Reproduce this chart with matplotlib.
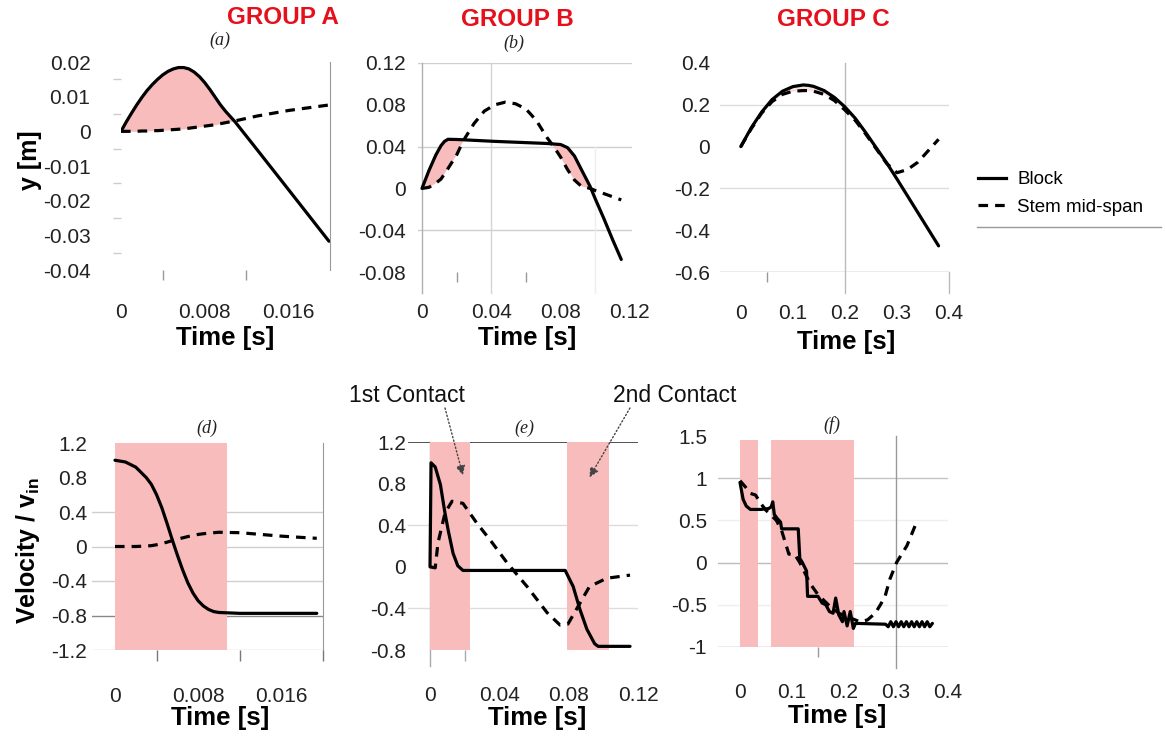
import numpy as np
import matplotlib
matplotlib.use("Agg")
import matplotlib.pyplot as plt
from matplotlib.lines import Line2D

plt.rcParams["font.family"] = ["Liberation Sans", "DejaVu Sans"]
plt.rcParams["mathtext.fontset"] = "custom"
plt.rcParams["mathtext.rm"] = "Liberation Sans"
plt.rcParams["mathtext.bf"] = "Liberation Sans:bold"

W, H, DPI = 1166, 740, 100
PINK = "#f8bcbc"
RED = "#e5101c"
TICK_C = "#222222"
DASH = (0, (3, 2.2))
LW = 2.3

# ---------------------------------------------------------------------------
# data
# ---------------------------------------------------------------------------
# (a) group A displacement
t_a = [0, 0.0005, 0.001, 0.0015, 0.002, 0.0025, 0.003, 0.0035, 0.004, 0.0045,
       0.005, 0.0055, 0.006, 0.0065, 0.007, 0.0075, 0.008, 0.0085, 0.009,
       0.0095, 0.01, 0.0109, 0.013, 0.016, 0.0199]
block_a = [0, 0.0027, 0.0052, 0.0076, 0.0098, 0.0118, 0.0135, 0.015, 0.0163,
           0.0173, 0.018, 0.0184, 0.0184, 0.018, 0.0171, 0.0158, 0.0141,
           0.0121, 0.0099, 0.0077, 0.0058, 0.0028, -0.0052, -0.0167, -0.0317]
stem_a = [0, 0, 0, 0, 0.0001, 0.0001, 0.0002, 0.0002, 0.0003, 0.0004, 0.0005,
          0.0006, 0.0007, 0.0009, 0.0011, 0.0013, 0.0015, 0.0017, 0.0019,
          0.0022, 0.0025, 0.003, 0.0044, 0.006, 0.0076]

# (b) group B displacement
t_b = [0, 0.004, 0.008, 0.011, 0.013, 0.015, 0.02, 0.024, 0.03, 0.036, 0.042,
       0.048, 0.054, 0.06, 0.066, 0.072, 0.076, 0.08, 0.084, 0.088, 0.092,
       0.097, 0.1, 0.105, 0.11, 0.115]
block_b = [0, 0.017, 0.032, 0.041, 0.045, 0.047, 0.0468, 0.0465, 0.046,
           0.0455, 0.045, 0.0446, 0.0442, 0.0438, 0.0434, 0.043, 0.0425, 0.042,
           0.039, 0.031, 0.018, 0.002, -0.01, -0.029, -0.049, -0.068]
stem_b = [0, 0.001, 0.005, 0.009, 0.014, 0.019, 0.032, 0.046, 0.062, 0.074,
          0.08, 0.0825, 0.081, 0.076, 0.065, 0.049, 0.04, 0.03, 0.018, 0.008,
          0.002, 0.0, -0.002, -0.005, -0.008, -0.011]

# (c) group C displacement
t_c = [0, 0.02, 0.04, 0.06, 0.08, 0.1, 0.12, 0.13, 0.14, 0.16, 0.18, 0.2,
       0.22, 0.24, 0.26, 0.28, 0.3, 0.32, 0.34, 0.36, 0.38]
block_c = [0, 0.09, 0.165, 0.225, 0.265, 0.287, 0.295, 0.293, 0.288, 0.268,
           0.235, 0.19, 0.135, 0.067, -0.005, -0.077, -0.155, -0.235, -0.315,
           -0.395, -0.475]
stem_c = [0, 0.085, 0.16, 0.215, 0.25, 0.265, 0.268, 0.268, 0.265, 0.25,
          0.22, 0.175, 0.125, 0.06, -0.01, -0.08, -0.125, -0.11, -0.075,
          -0.02, 0.035]

# (d) group A velocity
t_d = [0, 0.001, 0.002, 0.003, 0.0035, 0.004, 0.0045, 0.005, 0.0055, 0.006,
       0.0065, 0.007, 0.0075, 0.008, 0.0085, 0.009, 0.0095, 0.01, 0.012,
       0.014, 0.016, 0.018, 0.0194]
block_d = [1.0, 0.98, 0.92, 0.8, 0.72, 0.6, 0.45, 0.27, 0.08, -0.1, -0.27,
           -0.42, -0.54, -0.63, -0.69, -0.73, -0.755, -0.765, -0.775, -0.775,
           -0.775, -0.775, -0.775]
stem_d = [0, 0, 0, 0.005, 0.01, 0.02, 0.034, 0.05, 0.068, 0.085, 0.1, 0.115,
          0.128, 0.14, 0.148, 0.155, 0.16, 0.165, 0.16, 0.14, 0.12, 0.105,
          0.095]
contact_d = [(0, 0.0108)]

# (e) group B velocity
t_block_e = [0, 0.0006, 0.003, 0.006, 0.0085, 0.0105, 0.0133, 0.016, 0.019,
             0.078, 0.0826, 0.0865, 0.0905, 0.095, 0.097, 0.1154]
block_e = [0, 1.0, 0.96, 0.79, 0.53, 0.35, 0.13, 0.01, -0.035, -0.035, -0.19,
           -0.41, -0.6, -0.74, -0.765, -0.765]
t_stem_e = [0, 0.003, 0.0046, 0.0087, 0.0127, 0.019, 0.027, 0.0346, 0.0444,
            0.056, 0.0675, 0.075, 0.0796, 0.0865, 0.092, 0.102, 0.1154]
stem_e = [0, -0.01, 0.23, 0.52, 0.63, 0.61, 0.42, 0.26, 0.04, -0.19, -0.44,
          -0.56, -0.55, -0.35, -0.19, -0.11, -0.08]
contact_e = [(0, 0.023), (0.079, 0.103)]

# (f) group C velocity
t_block_f = [0, 0.006, 0.012, 0.02, 0.04, 0.055, 0.06, 0.063, 0.066, 0.072,
             0.078, 0.08, 0.112, 0.115, 0.12, 0.128, 0.13, 0.15, 0.158, 0.165,
             0.172, 0.179, 0.184, 0.19, 0.197, 0.2, 0.206, 0.212, 0.218,
             0.222, 0.28, 0.285, 0.29, 0.295, 0.3, 0.305, 0.31, 0.315, 0.32,
             0.325, 0.33, 0.335, 0.34, 0.345, 0.35, 0.355, 0.36, 0.365, 0.37]
block_f = [0.95, 0.75, 0.67, 0.63, 0.63, 0.64, 0.66, 0.72, 0.57, 0.52, 0.48,
           0.4, 0.4, 0.05, 0.0, -0.1, -0.4, -0.4, -0.48, -0.5, -0.58, -0.6,
           -0.42, -0.62, -0.7, -0.58, -0.75, -0.58, -0.78, -0.72, -0.73,
           -0.76, -0.7, -0.76, -0.7, -0.76, -0.7, -0.76, -0.7, -0.76, -0.7,
           -0.76, -0.7, -0.76, -0.7, -0.76, -0.7, -0.76, -0.72]
t_stem_f = [0, 0.01, 0.02, 0.03, 0.04, 0.05, 0.06, 0.07, 0.08, 0.094, 0.105,
            0.115, 0.135, 0.15, 0.17, 0.19, 0.21, 0.23, 0.245, 0.26, 0.27,
            0.279, 0.288, 0.301, 0.321, 0.341]
stem_f = [0.97, 0.9, 0.82, 0.8, 0.7, 0.62, 0.56, 0.5, 0.38, 0.1, 0.1, 0.0,
          -0.25, -0.38, -0.5, -0.6, -0.65, -0.7, -0.68, -0.6, -0.5, -0.4,
          -0.2, 0.0, 0.2, 0.5]
contact_f = [(0, 0.035), (0.06, 0.22)]

# axis ticks
yt_a = [0.02, 0.01, 0, -0.01, -0.02, -0.03, -0.04]
yt_b = [0.12, 0.08, 0.04, 0, -0.04, -0.08]
yt_c = [0.4, 0.2, 0, -0.2, -0.4, -0.6]
yt_d = [1.2, 0.8, 0.4, 0, -0.4, -0.8, -1.2]
yt_e = [1.2, 0.8, 0.4, 0, -0.4, -0.8]
yt_f = [1.5, 1, 0.5, 0, -0.5, -1]
xt_ad = [0, 0.008, 0.016]
xt_be = [0, 0.04, 0.08, 0.12]
xt_cf = [0, 0.1, 0.2, 0.3, 0.4]

fig = plt.figure(figsize=(W / DPI, H / DPI), dpi=DPI)


def px_axes(l, t, r, b):
    return fig.add_axes([l / W, 1 - b / H, (r - l) / W, (b - t) / H])


def ftxt(x, y, s, **kw):
    kw.setdefault("ha", "center")
    kw.setdefault("va", "center")
    fig.text(x / W, 1 - y / H, s, **kw)


def base(ax, xlim, ylim, xt, yt, xpad, ypad):
    ax.set_xlim(xlim)
    ax.set_ylim(ylim)
    for s in ax.spines.values():
        s.set_visible(False)
    ax.set_xticks(xt, [f"{v:g}" for v in xt])
    ax.set_yticks(yt, [f"{v:g}" for v in yt])
    ax.tick_params(which="major", length=0, labelsize=15, colors=TICK_C)
    ax.tick_params(axis="x", which="major", pad=xpad)
    ax.tick_params(axis="y", which="major", pad=ypad)
    ax.tick_params(which="minor", direction="out", length=7, width=1,
                   color="#999999")
    ax.patch.set_alpha(0)


def hgrid(ax, vals, color="#d4d4d4", lw=1):
    for v in vals:
        ax.axhline(v, color=color, lw=lw, zorder=0.5)


def vline(ax, x, y0, y1, color="#bbbbbb", lw=1):
    ax.plot([x, x], [y0, y1], color=color, lw=lw, zorder=0.5, clip_on=False)


def curves(ax, tb, yb, ts, ys):
    ax.plot(tb, yb, color="black", lw=LW, solid_capstyle="round", zorder=3)
    ax.plot(ts, ys, color="black", lw=LW, ls=DASH, zorder=3)


# ---------------------------------------------------------------- (a)
ax = px_axes(121, 62, 330, 270)
base(ax, (0, 0.02), (-0.04, 0.02), xt_ad, yt_a, 24, 22)
ax.set_xticks([0.004, 0.012], minor=True)
ax.set_yticks([0.015, 0.005, -0.005, -0.015, -0.025, -0.035], minor=True)
ax.tick_params(axis="y", which="minor", color="#cccccc", length=6)
ax.spines["right"].set_visible(True)
ax.spines["right"].set_color("#999999")
ax.fill_between(t_a, block_a, stem_a, where=np.array(block_a) >= np.array(stem_a),
                interpolate=True, color=PINK, lw=0, zorder=1)
curves(ax, t_a, block_a, t_a, stem_a)

# ---------------------------------------------------------------- (b)
ax = px_axes(418, 63, 632, 272)
base(ax, (-0.0023, 0.1212), (-0.08, 0.12), xt_be, yt_b, 22, 9)
ax.set_xticks([0.02, 0.06], minor=True)
hgrid(ax, [0.12, 0.04, -0.04], color="#cfcfcf")
vline(ax, 0, -0.1, 0.12, color="#b0b0b0")
vline(ax, 0.04, -0.1, 0.12, color="#d4d4d4")
vline(ax, 0.1, -0.1, 0.04, color="#eeeeee")
ax.fill_between(t_b, block_b, stem_b, where=np.array(block_b) >= np.array(stem_b),
                interpolate=True, color=PINK, lw=0, zorder=1)
curves(ax, t_b, block_b, t_b, stem_b)

# ---------------------------------------------------------------- (c)
ax = px_axes(720, 63, 949, 272)
base(ax, (-0.04, 0.4), (-0.6, 0.4), xt_cf, yt_c, 23, 7)
ax.set_xticks([0.05], minor=True)
hgrid(ax, [0.2, -0.2], color="#dddddd")
hgrid(ax, [-0.6], color="#999999")
vline(ax, 0.2, -0.7, 0.4, color="#bbbbbb")
vline(ax, 0.4, -0.7, -0.6, color="#bbbbbb")
ax.fill_between(t_c, block_c, stem_c, where=np.array(block_c) >= np.array(stem_c),
                interpolate=True, color="#fbe0e0", lw=0, zorder=1)
curves(ax, t_c, block_c, t_c, stem_c)

# ---------------------------------------------------------------- (d)
ax = px_axes(92, 443, 323, 650)
base(ax, (-0.00221, 0.02), (-1.2, 1.2), xt_ad, yt_d, 27, 3.5)
ax.set_xticks([0.004, 0.012, 0.02], minor=True)
ax.tick_params(axis="x", which="minor", length=8, color="#777777")
ax.spines["right"].set_visible(True)
ax.spines["right"].set_color("#999999")
for t0, t1 in contact_d:
    ax.axvspan(t0, t1, color=PINK, lw=0, zorder=1)
hgrid(ax, [0.4, 0, -0.4, -1.2], color="#cfcfcf")
hgrid(ax, [-0.8], color="#888888")
curves(ax, t_d, block_d, t_d, stem_d)

# ---------------------------------------------------------------- (e)
ax = px_axes(408, 442, 638, 650)
base(ax, (-0.0127, 0.12), (-0.8, 1.2), xt_be, yt_e, 26, 1.5)
ax.set_xticks([0.02], minor=True)
ax.tick_params(axis="x", which="minor", length=8, color="#aaaaaa")
for t0, t1 in contact_e:
    ax.axvspan(t0, t1, color=PINK, lw=0, zorder=1)
hgrid(ax, [1.2], color="#333333", lw=1.2)
hgrid(ax, [0.4, -0.4], color="#dddddd")
vline(ax, 0, -0.95, 1.2, color="#aaaaaa")
curves(ax, t_block_e, block_e, t_stem_e, stem_e)
ax.annotate("", xy=(0.019, 0.88), xytext=(445, 740 - 408),
            textcoords="figure pixels",
            arrowprops=dict(arrowstyle="-|>", ls=":", color="#444444",
                            lw=1, mutation_scale=14, shrinkA=0, shrinkB=0))
ax.annotate("", xy=(0.092, 0.86), xytext=(630, 740 - 408),
            textcoords="figure pixels",
            arrowprops=dict(arrowstyle="-|>", ls=":", color="#444444",
                            lw=1, mutation_scale=14, shrinkA=0, shrinkB=0))

# ---------------------------------------------------------------- (f)
ax = px_axes(718, 436, 948, 647)
base(ax, (-0.0423, 0.4), (-1, 1.5), xt_cf, yt_f, 26, 8)
ax.set_xticks([0.15], minor=True)
for t0, t1 in contact_f:
    ax.fill_between([t0, t1], -1, 1.45, color=PINK, lw=0, zorder=1)
hgrid(ax, [1], color="#c4c4c4")
hgrid(ax, [0.5, -0.5], color="#eeeeee")
hgrid(ax, [0], color="#bbbbbb")
hgrid(ax, [-1], color="#999999")
vline(ax, 0.3, -1.25, 1.5, color="#999999")
curves(ax, t_block_f, block_f, t_stem_f, stem_f)

# ---------------------------------------------------------------- texts
for x, y, s in [(283, 18, "GROUP A"), (517, 20, "GROUP B"), (833, 20, "GROUP C")]:
    ftxt(x, y, s, color=RED, fontsize=17.5, fontweight="bold")

for x, y, s in [(220, 40, "(a)"), (514, 43, "(b)"), (207, 428, "(d)"),
                (524, 428, "(e)"), (832, 425, "(f)")]:
    ftxt(x, y, s, fontsize=13, style="italic",
         family=["Liberation Serif", "DejaVu Serif"], color="#222222")

for x, y in [(225, 338), (527, 338), (846, 342), (220, 718), (537, 718), (837, 716)]:
    ftxt(x, y, "Time [s]", fontsize=18.5, fontweight="bold")

ftxt(30, 160, "y [m]", fontsize=18, fontweight="bold", rotation=90)
ftxt(28, 550, r"Velocity / v$_{\mathbf{in}}$", fontsize=18, fontweight="bold",
     rotation=90)

ftxt(407, 395, "1st Contact", fontsize=16.5, color="#111111")
ftxt(675, 395, "2nd Contact", fontsize=16.5, color="#111111")

# legend
handles = [Line2D([], [], color="black", lw=LW),
           Line2D([], [], color="black", lw=LW, ls=DASH)]
fig.legend(handles, ["Block", "Stem mid-span"], loc="upper left",
           bbox_to_anchor=(978 / W, 1 - 171 / H), frameon=False,
           fontsize=13.5, handlelength=1.5, handletextpad=0.6,
           labelspacing=0.55, borderaxespad=0, borderpad=0)
fig.add_artist(Line2D([977 / W, 1161 / W], [1 - 227 / H, 1 - 227 / H],
                      color="#999999", lw=1))

fig.savefig("out.png", dpi=DPI)
